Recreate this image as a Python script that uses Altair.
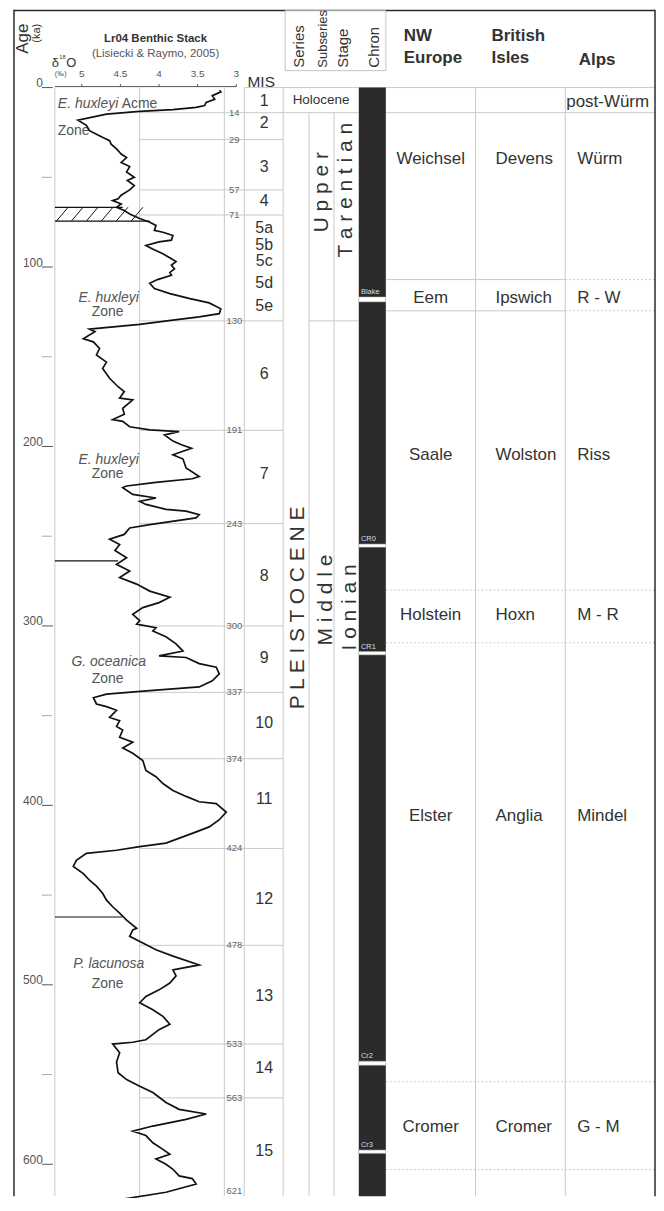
import altair as alt
import pandas as pd

# ------------------------------------------------------------------ data
# LR04 benthic d18O stack (age in ka, d18O in permil)
iso_age_a = [1.5, 2.4, 4.5, 6.5, 8.3, 10, 11, 12.3, 13.3, 14.8, 18.2, 21, 24, 26, 28, 29.6, 31.5, 34.2, 37, 39,
             41.7, 44, 47, 50, 51.7, 54.6, 57, 60, 62, 63, 64.8, 66.7, 68.5, 70.4, 73, 75, 76.8, 79.6, 80.6, 82.4,
             85, 86, 88, 89.8, 92.6, 95.4, 97, 99, 101, 103, 104.6, 107, 109, 112, 114.8, 117.6, 120, 123.3, 126,
             127.8, 129.6, 132, 134.6]
iso_d18o_a = [3.22, 3.20, 3.31, 3.28, 3.39, 3.41, 3.52, 3.82, 4.25, 4.68, 5.05, 4.94, 4.90, 4.81, 4.72, 4.64, 4.62,
              4.55, 4.49, 4.42, 4.49, 4.38, 4.42, 4.32, 4.41, 4.32, 4.38, 4.49, 4.53, 4.60, 4.49, 4.55, 4.45, 4.38,
              4.25, 4.12, 4.04, 4.06, 3.95, 3.82, 3.84, 4.00, 4.17, 4.09, 3.95, 3.84, 3.78, 3.84, 3.80, 3.86, 3.84,
              4.02, 4.12, 4.06, 3.86, 3.60, 3.35, 3.20, 3.22, 3.48, 3.82, 4.25, 4.90]
iso_age_b = [136, 140, 141.7, 145.4, 149, 153, 156.5, 162, 166.7, 169.4, 173, 174, 178.7, 182, 185, 186, 189, 190.7,
             191.7, 193.5, 197, 199, 201, 204.6, 207, 212, 216.7, 218, 220, 222, 222.9, 226.7, 228.7, 230.6, 232.3,
             235, 236, 238, 239.8, 243.5, 245.4, 249, 251.7, 254.6, 258, 262, 265.7, 269.4, 273, 276.7, 280.6, 284,
             287, 289.8, 293.5, 297, 299, 301]
iso_d18o_b = [4.83, 4.98, 4.85, 4.77, 4.81, 4.68, 4.73, 4.64, 4.53, 4.45, 4.51, 4.34, 4.47, 4.45, 4.60, 4.47, 4.38,
              4.12, 3.74, 3.93, 3.82, 3.71, 3.58, 3.82, 3.69, 3.65, 3.48, 3.57, 4.04, 4.42, 4.47, 4.34, 4.04, 4.25,
              4.17, 3.91, 3.65, 3.48, 3.52, 4.12, 4.38, 4.45, 4.64, 4.51, 4.57, 4.42, 4.55, 4.38, 4.51, 4.29, 4.12,
              3.86, 4.00, 4.21, 4.34, 4.25, 4.29, 4.04]
iso_age_c = [302.8, 306, 310, 314, 316.7, 317.6, 321, 323, 326.7, 330.6, 334, 336, 338, 340, 343.5, 345, 347, 351,
             352.8, 356, 358, 362, 364.8, 368, 371, 375, 380.5, 384, 387.8, 391.7, 395, 398, 399, 403.7, 408, 412,
             415.6, 421, 423, 425, 426.7, 430.6, 434, 438, 441.7, 445, 449, 452.8, 456.5, 460, 463.9, 468.5]
iso_d18o_c = [4.08, 3.91, 3.78, 3.69, 4.00, 3.65, 3.48, 3.26, 3.22, 3.31, 3.48, 4.12, 4.68, 4.85, 4.81, 4.68, 4.55,
              4.64, 4.51, 4.55, 4.47, 4.51, 4.34, 4.47, 4.34, 4.21, 4.17, 4.04, 3.95, 3.82, 3.65, 3.48, 3.26, 3.13,
              3.22, 3.35, 3.57, 3.91, 4.25, 4.55, 4.94, 5.07, 5.11, 4.98, 4.90, 4.81, 4.73, 4.68, 4.60, 4.51, 4.42,
              4.29]
iso_age_d = [469.4, 473, 476.7, 480.5, 484, 488.9, 491.7, 495, 499, 502.8, 506.5, 510, 513.9, 517.6, 522, 525, 530.6,
             532, 533, 537.8, 543, 549, 552.8, 556.5, 560, 565.6, 569.4, 572, 575, 578.7, 581.5, 584, 588, 591.7,
             594.4, 597, 600, 602.8, 606.5, 608, 611, 615.6, 620, 624]
iso_d18o_d = [4.34, 4.38, 4.21, 4.04, 3.82, 3.48, 3.82, 3.78, 3.86, 4.00, 4.17, 4.25, 4.08, 3.95, 3.86, 4.00, 4.17,
              4.34, 4.60, 4.51, 4.55, 4.53, 4.42, 4.25, 4.08, 3.91, 3.74, 3.39, 3.65, 4.08, 4.34, 4.17, 4.08, 3.95,
              3.86, 4.04, 3.91, 3.82, 3.74, 3.57, 3.52, 3.91, 4.55, 4.98]

d18o_ticks = [5, 4.5, 4, 3.5, 3]
d18o_tick_labels = ["5", "4.5", "4", "3.5", "3"]
age_ticks = [0, 100, 200, 300, 400, 500, 600]
age_minor_ticks = [50, 150, 250, 350, 450, 550]

# Marine isotope stages
mis_bounds = [14, 29, 57, 71, 130, 191, 243, 300, 337, 374, 424, 478, 533, 563]
mis_last_bound = [621]
mis_names = ["1", "2", "3", "4", "5a", "5b", "5c", "5d", "5e", "6", "7", "8", "9", "10", "11", "12", "13", "14", "15"]
mis_label_age = [7.5, 20, 44, 63, 78.5, 87.5, 96.5, 109, 122, 159.5, 215.5, 272, 318, 354, 396.5, 452, 506, 546.5, 592.5]

# nannofossil zones
zone_names = ["E. huxleyi", "E. huxleyi", "G. oceanica", "P. lacunosa"]
zone_name_age = [117.2, 207.8, 320, 488.3]
zone_word_age = [125, 215.6, 329.4, 499.4]
acme_age = [9.4]
acme_zone_age = [24.4]
zone_line_age = [263.7, 462.2]
zone_line_d18o = [4.53, 4.48]
hatch_age = [66.7, 74.4]
hatch_d18o_end = [4.47, 4.12]

# palaeomagnetic chrons (white breaks in the chron column)
chron_names = ["Blake", "CR0", "CR1", "Cr2", "Cr3"]
chron_top = [116.7, 254.4, 314.3, 542.6, 592.1]
chron_bottom = [119.4, 256.1, 316.1, 544.8, 593.9]

# regional stages
region_solid_bounds = [107, 124.4]
region_dotted_bounds = [280, 309.4, 554, 603]
nw_europe = ["Weichsel", "Eem", "Saale", "Holstein", "Elster", "Cromer"]
british_isles = ["Devens", "Ipswich", "Wolston", "Hoxn", "Anglia", "Cromer"]
alps = ["Würm", "R - W", "Riss", "M - R", "Mindel", "G - M"]
region_label_age = [40, 117.2, 205, 294, 406, 579]
post_wurm_age = [7.8]
holocene_age = [7.2]

# stratigraphic names (rotated)
strat_names = ["P L E I S T O C E N E", "U p p e r", "T a r e n t i a n", "M i d d l e", "I o n i a n"]
strat_age = [290, 58.3, 57.2, 285.6, 289.7]

# ------------------------------------------------------------------ layout
W, H = 650, 1190
Y0, PX = 78, 1.8
FONT = "Liberation Sans"
TXT = "#333333"
GRID = "#c9c9c9"
FRAME = "#2a2a2a"
X = dict(frame_l=6, iso_l=47, grid=132, iso_r=217, mis_l=237, mis_r=276, ser_r=302, sub_r=327,
         stg_r=352, chr_r=379, nw_r=469, bi_r=559, alps_r=649)

YS = alt.Scale(domain=[-Y0 / PX, (H - Y0) / PX], reverse=True, nice=False, zero=False)
XS = alt.Scale(domain=[3, 5], range=[229, 74], nice=False, zero=False)
PANEL_LEFT_D = 5.348


def yenc(field="age"):
    return alt.Y(f"{field}:Q", scale=YS, axis=None)


def hlines(ages, x1, x2, color=GRID, dash=None, width=1.0):
    mk = dict(color=color, strokeWidth=width)
    if dash:
        mk["strokeDash"] = dash
    return alt.Chart(pd.DataFrame({"age": ages})).mark_rule(**mk).encode(
        x=alt.value(x1), x2=alt.value(x2), y=yenc())


def vline(x, age_top, color=GRID, width=1.0):
    return alt.Chart(pd.DataFrame({"age": [age_top]})).mark_rule(color=color, strokeWidth=width).encode(
        x=alt.value(x), y=yenc(), y2=alt.value(H))


def texts(ages, labels, x, size, color=TXT, align="center", baseline="middle", angle=None,
          weight=None, style=None, dy=0):
    mk = dict(font=FONT, fontSize=size, color=color, align=align, baseline=baseline)
    if angle is not None:
        mk["angle"] = angle
    if weight:
        mk["fontWeight"] = weight
    if style:
        mk["fontStyle"] = style
    if dy:
        mk["dy"] = dy
    return alt.Chart(pd.DataFrame({"age": ages, "label": labels})).mark_text(**mk).encode(
        x=alt.value(x), y=yenc(), text="label:N")


def fixed_text(label, x, y, size, color=TXT, align="center", baseline="middle", angle=None,
               weight=None, style=None):
    mk = dict(font=FONT, fontSize=size, color=color, align=align, baseline=baseline)
    if angle is not None:
        mk["angle"] = angle
    if weight:
        mk["fontWeight"] = weight
    if style:
        mk["fontStyle"] = style
    return alt.Chart(pd.DataFrame({"label": [label]})).mark_text(**mk).encode(
        x=alt.value(x), y=alt.value(y), text="label:N")


layers = []

# ---- grid / table lines
for xx in (X["iso_l"], X["grid"], X["iso_r"], X["mis_l"], X["mis_r"], X["stg_r"], X["nw_r"], X["bi_r"]):
    layers.append(vline(xx, 0))
for xx in (X["ser_r"], X["sub_r"]):
    layers.append(vline(xx, 14))
layers.append(hlines([0], X["mis_l"], X["alps_r"]))
layers.append(hlines(mis_bounds + mis_last_bound, X["grid"], X["mis_r"]))
layers.append(hlines([14], X["mis_r"], X["alps_r"]))
layers.append(hlines([130], X["ser_r"], X["stg_r"]))
layers.append(hlines(region_solid_bounds, X["chr_r"], X["bi_r"]))
layers.append(hlines(region_solid_bounds, X["bi_r"], X["alps_r"], dash=[2, 2]))
layers.append(hlines(region_dotted_bounds, X["chr_r"], X["alps_r"], dash=[2, 2]))

# ---- frame
layers.append(alt.Chart(pd.DataFrame({"a": [0]})).mark_rule(color=FRAME, strokeWidth=1.5).encode(
    x=alt.value(X["frame_l"]), y=alt.value(0), y2=alt.value(H)))
layers.append(alt.Chart(pd.DataFrame({"a": [0]})).mark_rule(color=FRAME, strokeWidth=1.5).encode(
    x=alt.value(X["alps_r"]), y=alt.value(0), y2=alt.value(H)))
layers.append(alt.Chart(pd.DataFrame({"a": [0]})).mark_rule(color=FRAME, strokeWidth=1.5).encode(
    x=alt.value(X["frame_l"]), x2=alt.value(X["alps_r"]), y=alt.value(0.75)))

# ---- header box for rotated column titles
layers.append(alt.Chart(pd.DataFrame({"a": [0]})).mark_rect(fill="white", stroke="#c4c4c4", strokeWidth=1).encode(
    x=alt.value(278), x2=alt.value(379), y=alt.value(1), y2=alt.value(61)))
for lab, xx, fs in (("Series", 297, 15), ("Subseries", 320, 13), ("Stage", 341, 15), ("Chron", 372, 15)):
    layers.append(fixed_text(lab, xx, 58, fs, align="left", baseline="alphabetic", angle=270))

# ---- chron column
layers.append(alt.Chart(pd.DataFrame({"age": [0]})).mark_rect(color="#2b2b2b").encode(
    x=alt.value(X["stg_r"]), x2=alt.value(X["chr_r"]), y=yenc(), y2=alt.value(H)))
layers.append(alt.Chart(pd.DataFrame({"age": chron_top, "age2": chron_bottom})).mark_rect(
    color="white", stroke="#bbbbbb", strokeWidth=0.5).encode(
    x=alt.value(X["stg_r"]), x2=alt.value(X["chr_r"]), y=yenc(), y2="age2:Q"))
layers.append(texts(chron_top, chron_names, X["stg_r"] + 2, 7.5, color="#dddddd", align="left",
                    baseline="bottom", dy=-1))

# ---- age axis (left)
layers.append(hlines(age_ticks, 34, 45, color="#555555", width=1))
layers.append(hlines(age_minor_ticks, 34, 44, color="#aaaaaa", width=1))
layers.append(texts(age_ticks, [str(v) for v in age_ticks], 35, 12, color="#555555", align="right",
                    baseline="alphabetic", dy=-0.5))
layers.append(fixed_text("Age", 20, 29, 17, align="center", baseline="alphabetic", angle=270))
layers.append(fixed_text("(ka)", 32, 23.5, 11, align="center", baseline="alphabetic", angle=270))

# ---- isotope header and axis
layers.append(fixed_text("Lr04 Benthic Stack", 148, 29, 11.5, weight="bold"))
layers.append(fixed_text("(Lisiecki & Raymo, 2005)", 148, 44, 11.5, color="#555555"))
layers.append(fixed_text("δ", 44, 53, 13, align="left"))
layers.append(fixed_text("18", 51.5, 47.5, 5.5, align="left"))
layers.append(fixed_text("O", 58.5, 53, 13, align="left"))
layers.append(fixed_text("(‰)", 47, 64, 7, color="#555555", align="left"))
layers.append(alt.Chart(pd.DataFrame({"a": [0]})).mark_rule(color="#555555", strokeWidth=1).encode(
    x=alt.value(X["iso_l"]), x2=alt.value(229), y=alt.value(77)))
tick_df = pd.DataFrame({"d": d18o_ticks, "label": d18o_tick_labels})
layers.append(alt.Chart(tick_df).mark_rule(color="#555555", strokeWidth=1).encode(
    x=alt.X("d:Q", scale=XS, axis=None), y=alt.value(74.5), y2=alt.value(77)))
layers.append(alt.Chart(tick_df).mark_text(font=FONT, fontSize=10, color="#555555").encode(
    x=alt.X("d:Q", scale=XS, axis=None), y=alt.value(64), text="label:N"))

# ---- MIS column
layers.append(fixed_text("MIS", 254, 77, 15.5, align="center", baseline="alphabetic"))
layers.append(texts(mis_label_age, mis_names, 257, 16))
layers.append(texts(mis_bounds, [str(v) for v in mis_bounds], 227, 9.5, color="#666666"))
layers.append(texts(mis_last_bound, [str(v) for v in mis_last_bound], 227, 9.5, color="#666666",
                    baseline="bottom", dy=-6))

# ---- Holocene / series / stage columns
layers.append(texts(holocene_age, ["Holocene"], 314, 13.5))
layers.append(texts([strat_age[0]], [strat_names[0]], 297, 21, baseline="alphabetic", angle=270))
layers.append(texts([strat_age[1]], [strat_names[1]], 321, 21, baseline="alphabetic", angle=270))
layers.append(texts([strat_age[2]], [strat_names[2]], 345, 21, baseline="alphabetic", angle=270))
layers.append(texts([strat_age[3]], [strat_names[3]], 325, 21, baseline="alphabetic", angle=270))
layers.append(texts([strat_age[4]], [strat_names[4]], 349, 21, baseline="alphabetic", angle=270))

# ---- regional columns
layers.append(fixed_text("NW", 397, 31, 17, align="left", baseline="alphabetic", weight="bold"))
layers.append(fixed_text("Europe", 397, 53.5, 17, align="left", baseline="alphabetic", weight="bold"))
layers.append(fixed_text("British", 485, 31, 17, align="left", baseline="alphabetic", weight="bold"))
layers.append(fixed_text("Isles", 485, 53.5, 17, align="left", baseline="alphabetic", weight="bold"))
layers.append(fixed_text("Alps", 572.5, 55.3, 17, align="left", baseline="alphabetic", weight="bold"))
layers.append(texts(region_label_age, nw_europe, 424, 17))
layers.append(texts(region_label_age, british_isles, 489, 17, align="left"))
layers.append(texts(region_label_age, alps, 571, 17, align="left"))
layers.append(texts(post_wurm_age, ["post-Würm"], 560, 17, align="left"))

# ---- zone annotations in the isotope panel
layers.append(texts(acme_age, ["E. huxleyi"], 50, 14, color="#555555", align="left", style="italic"))
layers.append(texts(acme_age, ["Acme"], 114, 14, color="#555555", align="left"))
layers.append(texts(acme_zone_age, ["Zone"], 50, 14, color="#555555", align="left"))
layers.append(texts(zone_name_age, zone_names, 101, 14, color="#555555", style="italic"))
layers.append(texts(zone_word_age, ["Zone"] * len(zone_word_age), 100, 14, color="#555555"))

# zone boundary lines
zl = pd.DataFrame({"age": zone_line_age, "d1": [PANEL_LEFT_D] * len(zone_line_age), "d2": zone_line_d18o})
layers.append(alt.Chart(zl).mark_rule(color="#111111", strokeWidth=1.2).encode(
    x=alt.X("d1:Q", scale=XS, axis=None), x2="d2:Q", y=yenc()))

# hatched interval (MIS 4/5 boundary)
hb = pd.DataFrame({"age": hatch_age, "d1": [PANEL_LEFT_D] * 2, "d2": hatch_d18o_end})
layers.append(alt.Chart(hb).mark_rule(color="#111111", strokeWidth=1.2).encode(
    x=alt.X("d1:Q", scale=XS, axis=None), x2="d2:Q", y=yenc()))
step, slant = 15 / 77.5, 11.7 / 77.5
h_start = [PANEL_LEFT_D - 0.02 - i * step for i in range(6)]
hatch = pd.DataFrame({"d1": h_start, "d2": [v - slant for v in h_start],
                      "age": [hatch_age[1]] * 6, "age2": [hatch_age[0]] * 6})
layers.append(alt.Chart(hatch).mark_rule(color="#111111", strokeWidth=1).encode(
    x=alt.X("d1:Q", scale=XS, axis=None), x2="d2:Q", y=yenc(), y2="age2:Q"))

# ---- isotope curve
iso = pd.DataFrame({
    "age": iso_age_a + iso_age_b + iso_age_c + iso_age_d,
    "d18o": iso_d18o_a + iso_d18o_b + iso_d18o_c + iso_d18o_d,
})
layers.append(alt.Chart(iso).mark_line(color="#111111", strokeWidth=1.7, strokeJoin="miter").encode(
    x=alt.X("d18o:Q", scale=XS, axis=None), y=yenc(), order="age:Q"))

chart = alt.layer(*layers).properties(
    width=W, height=H, padding=0, autosize=alt.AutoSizeParams(type="none"),
    background="white",
).configure_view(stroke=None)

chart.save("out.html", embed_options={"renderer": "svg", "actions": False})
